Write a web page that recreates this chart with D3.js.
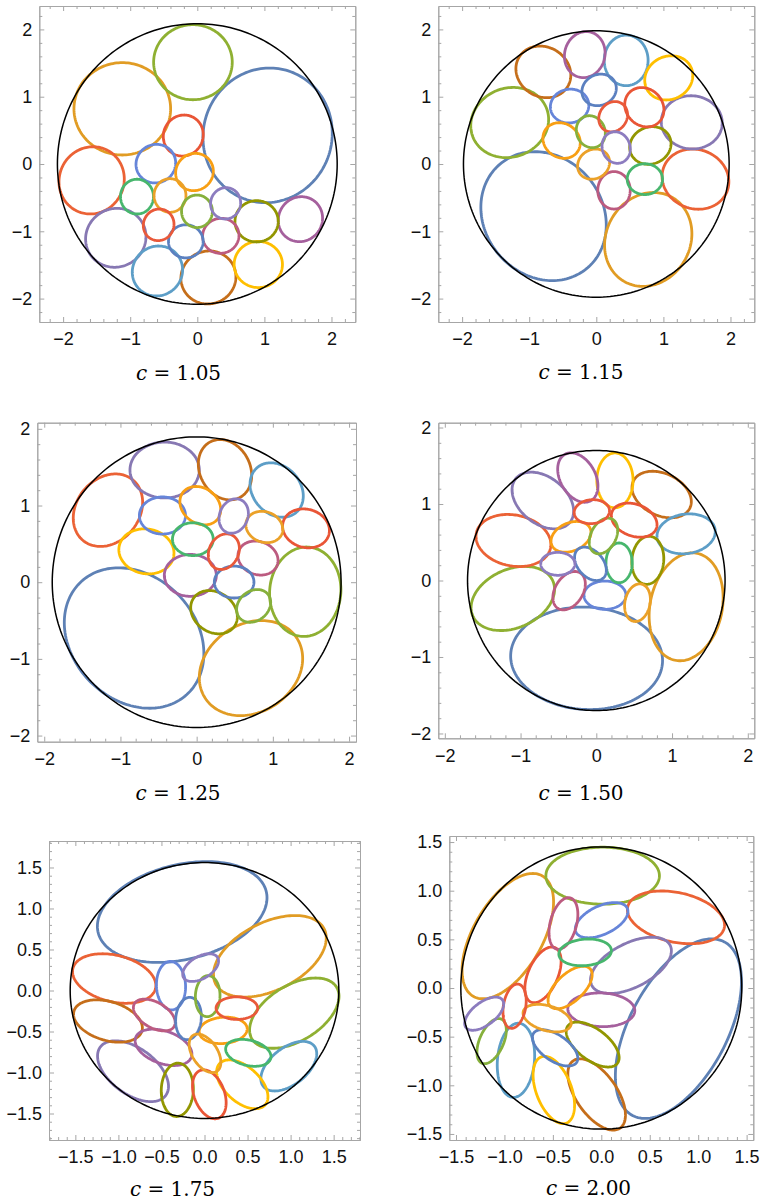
<!DOCTYPE html>
<html>
<head>
<meta charset="utf-8">
<script src="https://cdn.jsdelivr.net/npm/d3@7"></script>
<style>
  body { margin: 0; background: #fff; }
  svg { display: block; }
</style>
</head>
<body>
<svg id="chart" width="763" height="1201"></svg>
<script>
// Default plot palette, one colour per ellipse in drawing order
const palette = [
  "#5E81B5", "#E19C24", "#8FB032", "#EB6235", "#8778B3",
  "#C56E1A", "#5D9EC7", "#FFBF00", "#A5609D", "#929600",
  "#E95536", "#6685D9", "#F89F13", "#BC5B80", "#47B66D",
  "#5B80C0", "#EBA128", "#86B03C", "#E9593A", "#8C7CBF"
];

// Aspect ratio (major / minor semi-axis) of every ellipse in a packing
const cValues = [1.05, 1.15, 1.25, 1.50, 1.75, 2.00];

// Radius of the enclosing circle for each packing
const boundaryRadius = [2.085, 1.98, 1.895, 1.70, 1.56, 1.45];

// Each ellipse: [centre x, centre y, minor semi-axis b, major-axis angle in degrees]
const ellipsesC105 = [
  [ 1.048,  0.426, 0.958,  70], [-1.118,  0.820, 0.686,   0], [-0.065,  1.513, 0.558,   0],
  [-1.575, -0.243, 0.481,  61], [-1.215, -1.097, 0.433,  28], [ 0.166, -1.686, 0.392,  18],
  [-0.594, -1.590, 0.364,  39], [ 0.909, -1.493, 0.343,   0], [ 1.537, -0.820, 0.324,  52],
  [ 0.884, -0.852, 0.307,   0], [-0.209,  0.423, 0.294,  59], [-0.618,  0.005, 0.284,  25],
  [-0.042, -0.119, 0.272,  37], [ 0.350, -1.067, 0.259,  15], [-0.899, -0.485, 0.246,  90],
  [-0.171, -1.149, 0.246,   0], [-0.407, -0.468, 0.238,  90], [-0.005, -0.703, 0.230,  90],
  [-0.576, -0.904, 0.226,  61], [ 0.422, -0.584, 0.223,  72]
];
const ellipsesC115 = [
  [-0.786, -0.775, 0.878, -50], [ 0.774, -1.121, 0.626,  60], [-1.291,  0.616, 0.512,  20],
  [ 1.478, -0.225, 0.439, -20], [ 1.423,  0.619, 0.395,  -5], [-0.789,  1.369, 0.368, -31],
  [ 0.445,  1.540, 0.327,  90], [ 1.080,  1.280, 0.319,  26], [-0.172,  1.626, 0.300,  75],
  [ 0.806,  0.275, 0.273,  23], [ 0.716,  0.844, 0.271, 135], [-0.398,  0.861, 0.250,  10],
  [-0.517,  0.349, 0.252, -34], [ 0.264, -0.391, 0.242,  90], [ 0.724, -0.225, 0.229,   0],
  [ 0.042,  1.101, 0.228,  25], [-0.040, -0.002, 0.215,  32], [-0.082,  0.480, 0.211, 114],
  [ 0.251,  0.703, 0.204,  55], [ 0.296,  0.245, 0.207, 110]
];
const ellipsesC125 = [
  [-0.821, -0.728, 0.809, -45], [ 0.713, -1.120, 0.574,  33], [ 1.425, -0.124, 0.467,  85],
  [-1.164,  0.939, 0.410,  50], [-0.420,  1.463, 0.364,   0], [ 0.372,  1.467, 0.329, 119],
  [ 1.050,  1.202, 0.311, 133], [-0.659,  0.402, 0.291, -10], [-0.083,  0.089, 0.273,   0],
  [ 0.228, -0.391, 0.260, -34], [ 1.435,  0.702, 0.249, -15], [-0.449,  0.870, 0.242,   0],
  [ 0.048,  0.998, 0.229, 144], [ 0.805,  0.315, 0.215, -20], [-0.050,  0.561, 0.214,   0],
  [ 0.492,  0.002, 0.208,   0], [ 0.888,  0.720, 0.198, -20], [ 0.748, -0.309, 0.193,  39],
  [ 0.357,  0.398, 0.193,  63], [ 0.486,  0.863, 0.185,  67]
];
const ellipsesC150 = [
  [-0.128, -1.017, 0.669,  -3], [ 1.186, -0.344, 0.476,  78], [-1.102, -0.235, 0.384,  23],
  [-1.094,  0.523, 0.333, -11], [-0.706,  1.046, 0.305, -38], [ 0.863,  1.124, 0.275, -25],
  [ 1.186,  0.610, 0.258,   8], [ 0.246,  1.309, 0.239,  90], [-0.244,  1.346, 0.232, 120],
  [ 0.680,  0.264, 0.210,  85], [ 0.500,  0.789, 0.208, -20], [ 0.114, -0.192, 0.185,   0],
  [-0.334,  0.571, 0.184,  23], [-0.359, -0.133, 0.183,  57], [ 0.301,  0.231, 0.173,  90],
  [-0.077,  0.218, 0.168, 132], [ 0.544, -0.290, 0.166,  78], [ 0.095,  0.582, 0.166,  62],
  [-0.059,  0.900, 0.156,   5], [-0.508,  0.218, 0.150,   0]
];
const ellipsesC175 = [
  [-0.259,  0.957, 0.576,  15], [ 0.759,  0.417, 0.408,  29], [ 1.043, -0.276, 0.334,  34],
  [-1.049,  0.146, 0.283, -15], [-0.830, -0.984, 0.275, -39], [-1.121, -0.372, 0.236, -18],
  [ 0.979, -0.923, 0.220,  41], [ 0.439, -1.144, 0.209, -45], [-0.476, -0.693, 0.197, -21],
  [-0.316, -1.211, 0.186,  88], [ 0.056, -1.266, 0.177, 109], [-0.389,  0.059, 0.169,  92],
  [ 0.217, -0.486, 0.160,   5], [-0.583, -0.299, 0.154, -32], [ 0.509, -0.760, 0.154, -15],
  [-0.186, -0.342, 0.148,  85], [ 0.006, -0.766, 0.148, 121], [ 0.037, -0.069, 0.143,  88],
  [ 0.376, -0.215, 0.138,   0], [-0.045,  0.279, 0.133,  33]
];
const ellipsesC200 = [
  [ 0.796, -0.418, 0.505,  62], [-0.965,  0.533, 0.357,  60], [ 0.014,  1.154, 0.293,   0],
  [ 0.771,  0.726, 0.255, -12], [ 0.306,  0.233, 0.227,  27], [-0.048, -1.094, 0.211, -55],
  [-0.881, -0.743, 0.191,  85], [-0.490, -1.048, 0.182, 111], [ 0.000, -0.224, 0.173,  -2],
  [-0.089, -0.581, 0.160, -37], [-0.602,  0.135, 0.153,  66], [ 0.003,  0.697, 0.146,  25],
  [-0.322,  0.005, 0.141,  43], [-0.391,  0.663, 0.136,  75], [-0.167,  0.366, 0.136,   5],
  [-0.477, -0.615, 0.134, -34], [-0.559, -0.310, 0.128, -16], [-1.132, -0.546, 0.124,  66],
  [-0.895, -0.187, 0.115,  80], [-1.209, -0.264, 0.118,  37]
];

// Tick values and their labels
const ticksWhole = [-2, -1, 0, 1, 2];
const tickLabelsWhole = ["\u22122", "\u22121", "0", "1", "2"];
const ticksHalf = [-1.5, -1, -0.5, 0, 0.5, 1, 1.5];
const tickLabelsHalf = ["\u22121.5", "\u22121.0", "\u22120.5", "0.0", "0.5", "1.0", "1.5"];

// Page layout of the six frames: [left, top, right, bottom] in pixels, plus axis extents
const panels = [
  { c: cValues[0], R: boundaryRadius[0], shapes: ellipsesC105, frame: [39.3, 6, 355.3, 322],
    xDom: [-2.355, 2.355], yDom: [-2.348, 2.348], major: ticksWhole, labels: tickLabelsWhole,
    minorStep: 0.2, caption: [178.5, 380] },
  { c: cValues[1], R: boundaryRadius[1], shapes: ellipsesC115, frame: [438.3, 6, 754.3, 322],
    xDom: [-2.355, 2.355], yDom: [-2.348, 2.348], major: ticksWhole, labels: tickLabelsWhole,
    minorStep: 0.2, caption: [581, 379] },
  { c: cValues[2], R: boundaryRadius[2], shapes: ellipsesC125, frame: [37.3, 422.7, 356, 741.7],
    xDom: [-2.091, 2.091], yDom: [-2.08, 2.08], major: ticksWhole, labels: tickLabelsWhole,
    minorStep: 0.2, caption: [178, 800] },
  { c: cValues[3], R: boundaryRadius[3], shapes: ellipsesC150, frame: [438.3, 422.7, 754.3, 738.3],
    xDom: [-2.086, 2.086], yDom: [-2.063, 2.063], major: ticksWhole, labels: tickLabelsWhole,
    minorStep: 0.2, caption: [581, 800] },
  { c: cValues[4], R: boundaryRadius[4], shapes: ellipsesC175, frame: [49, 841, 360, 1140],
    xDom: [-1.806, 1.806], yDom: [-1.823, 1.823], major: ticksHalf, labels: tickLabelsHalf,
    minorStep: 0.1, caption: [172.5, 1196] },
  { c: cValues[5], R: boundaryRadius[5], shapes: ellipsesC200, frame: [449.3, 836, 753.3, 1140],
    xDom: [-1.569, 1.569], yDom: [-1.562, 1.562], major: ticksHalf, labels: tickLabelsHalf,
    minorStep: 0.1, caption: [588.5, 1195] }
];

const svg = d3.select("#chart");
const frameGrey = "#a6a6a6";
const tickFont = "'Liberation Sans', Arial, sans-serif";

// Closed outline of an ellipse, traced in data space
function ellipsePoints(cx, cy, a, b, thetaDeg, n = 160) {
  const th = thetaDeg * Math.PI / 180, ct = Math.cos(th), st = Math.sin(th);
  return d3.range(n).map(i => {
    const t = 2 * Math.PI * i / n;
    const u = a * Math.cos(t), v = b * Math.sin(t);
    return [cx + u * ct - v * st, cy + u * st + v * ct];
  });
}

function minorValues(dom, step, major) {
  const lo = Math.ceil(dom[0] / step - 1e-9), hi = Math.floor(dom[1] / step + 1e-9);
  return d3.range(lo, hi + 1).map(k => +(k * step).toFixed(4))
    .filter(v => !major.some(m => Math.abs(m - v) < 1e-6));
}

function styleAxis(g) {
  g.select(".domain").attr("stroke", frameGrey).attr("stroke-width", 1);
  g.selectAll(".tick line").attr("stroke", frameGrey).attr("stroke-width", 1);
  g.selectAll(".tick text").attr("fill", "#111").attr("font-family", tickFont).attr("font-size", 18);
}

panels.forEach(p => {
  const [L, T, Rr, B] = p.frame;
  const x = d3.scaleLinear().domain(p.xDom).range([L, Rr]);
  const y = d3.scaleLinear().domain(p.yDom).range([B, T]);
  const minor = minorValues(p.xDom, p.minorStep, p.major);
  const minorY = minorValues(p.yDom, p.minorStep, p.major);
  const fmt = d => p.labels[p.major.findIndex(m => Math.abs(m - d) < 1e-9)];

  const g = svg.append("g");

  // ellipses
  const line = d3.line().x(d => x(d[0])).y(d => y(d[1])).curve(d3.curveLinearClosed);
  g.append("g").selectAll("path")
    .data(p.shapes)
    .join("path")
    .attr("d", d => line(ellipsePoints(d[0], d[1], p.c * d[2], d[2], d[3])))
    .attr("fill", "none")
    .attr("stroke", (d, i) => palette[i])
    .attr("stroke-width", 2.8);

  // enclosing circle
  g.append("path")
    .attr("d", line(ellipsePoints(0, 0, p.R, p.R, 0, 240)))
    .attr("fill", "none")
    .attr("stroke", "#000")
    .attr("stroke-width", 1.5);

  // frame with inward ticks on all four sides
  const bottom = g.append("g").attr("transform", `translate(0,${B})`)
    .call(d3.axisBottom(x).tickValues(p.major).tickFormat(fmt).tickSize(-5).tickSizeOuter(0).tickPadding(10.5));
  const left = g.append("g").attr("transform", `translate(${L},0)`)
    .call(d3.axisLeft(y).tickValues(p.major).tickFormat(fmt).tickSize(-5).tickSizeOuter(0).tickPadding(7));
  const top = g.append("g").attr("transform", `translate(0,${T})`)
    .call(d3.axisTop(x).tickValues(p.major).tickFormat("").tickSize(-5).tickSizeOuter(0));
  const right = g.append("g").attr("transform", `translate(${Rr},0)`)
    .call(d3.axisRight(y).tickValues(p.major).tickFormat("").tickSize(-5).tickSizeOuter(0));
  [bottom, left, top, right].forEach(styleAxis);

  // minor ticks
  g.append("g").attr("transform", `translate(0,${B})`)
    .call(d3.axisBottom(x).tickValues(minor).tickFormat("").tickSize(-3).tickSizeOuter(0)).call(styleAxis);
  g.append("g").attr("transform", `translate(0,${T})`)
    .call(d3.axisTop(x).tickValues(minor).tickFormat("").tickSize(-3).tickSizeOuter(0)).call(styleAxis);
  g.append("g").attr("transform", `translate(${L},0)`)
    .call(d3.axisLeft(y).tickValues(minorY).tickFormat("").tickSize(-3).tickSizeOuter(0)).call(styleAxis);
  g.append("g").attr("transform", `translate(${Rr},0)`)
    .call(d3.axisRight(y).tickValues(minorY).tickFormat("").tickSize(-3).tickSizeOuter(0)).call(styleAxis);

  // caption
  const cap = svg.append("text")
    .attr("x", p.caption[0]).attr("y", p.caption[1])
    .attr("text-anchor", "middle")
    .attr("font-family", "'DejaVu Serif', 'Liberation Serif', serif")
    .attr("font-size", 20)
    .attr("fill", "#000");
  cap.append("tspan").attr("font-style", "italic").text("c");
  cap.append("tspan").text(" = " + p.c.toFixed(2));
});
</script>
</body>
</html>
